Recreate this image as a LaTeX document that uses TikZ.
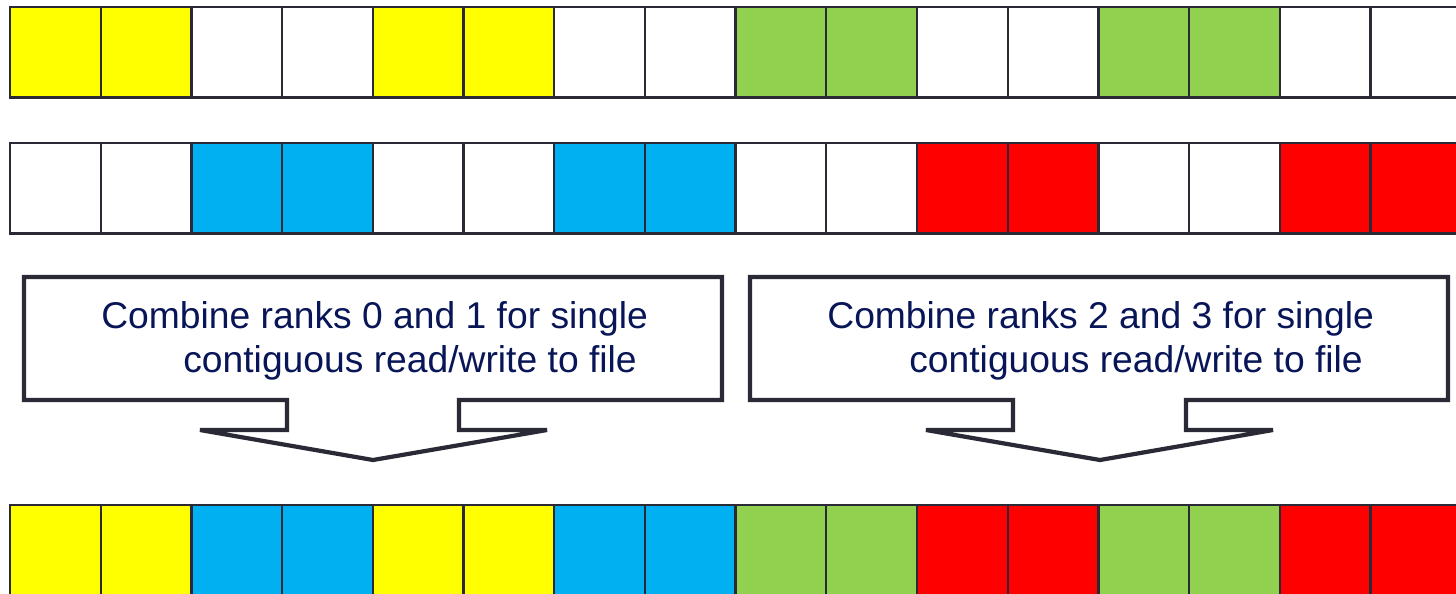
\documentclass[tikz,border=0pt]{standalone}
\usepackage{fontspec}
\setmainfont{Liberation Sans}
\definecolor{cellyellow}{RGB}{255,255,0}
\definecolor{cellgreen}{RGB}{146,208,80}
\definecolor{cellblue}{RGB}{0,176,240}
\definecolor{cellred}{RGB}{255,0,0}
\definecolor{edge}{RGB}{42,42,54}
\definecolor{navy}{RGB}{8,22,88}
\tikzset{
  cell/.style={draw=edge,line width=1.3pt},
  callout/.style={draw=edge,line width=2.4pt,fill=white,line join=miter},
  calltext/.style={text=navy,font=\fontsize{21.2}{25}\selectfont,align=left,inner sep=0pt}
}

\begin{document}
\begin{tikzpicture}[x=0.02cm,y=-0.02cm]
  \useasboundingbox (0,0) rectangle (1456,594);
  \clip (0,0) rectangle (1456,594);
  \pgfmathsetmacro{\w}{90.7}
  \pgfmathsetmacro{\h}{90.5}
  % row 1: ranks 0 and 2
  \foreach \c [count=\i from 0] in {cellyellow,cellyellow,white,white,cellyellow,cellyellow,white,white,
                                    cellgreen,cellgreen,white,white,cellgreen,cellgreen,white,white}
    \draw[cell,fill=\c] ({10+\i*\w},7) rectangle ++(\w,\h);
  % row 2: ranks 1 and 3
  \foreach \c [count=\i from 0] in {white,white,cellblue,cellblue,white,white,cellblue,cellblue,
                                    white,white,cellred,cellred,white,white,cellred,cellred}
    \draw[cell,fill=\c] ({10+\i*\w},143) rectangle ++(\w,\h);
  % row 3: combined file
  \foreach \c [count=\i from 0] in {cellyellow,cellyellow,cellblue,cellblue,cellyellow,cellyellow,cellblue,cellblue,
                                    cellgreen,cellgreen,cellred,cellred,cellgreen,cellgreen,cellred,cellred}
    \draw[cell,fill=\c] ({10+\i*\w},505) rectangle ++(\w,\h);
  % left callout
  \draw[callout] (24,277) -- (722,277) -- (722,400) -- (459,400) -- (459,430) -- (547,430)
    -- (373,460) -- (200,430) -- (287,430) -- (287,400) -- (24,400) -- cycle;
  \node[calltext,anchor=base west] (combA) at (101,372)
    {Combine ranks 0 and 1 for single\\\hspace*{1.64cm}contiguous read/write to file};
  % right callout
  \draw[callout] (750,277) -- (1448,277) -- (1448,400) -- (1186,400) -- (1186,430) -- (1273,430)
    -- (1100,460) -- (926,430) -- (1013,430) -- (1013,400) -- (750,400) -- cycle;
  \node[calltext,anchor=base west] (combB) at (827,372)
    {Combine ranks 2 and 3 for single\\\hspace*{1.64cm}contiguous read/write to file};
\end{tikzpicture}
\end{document}
